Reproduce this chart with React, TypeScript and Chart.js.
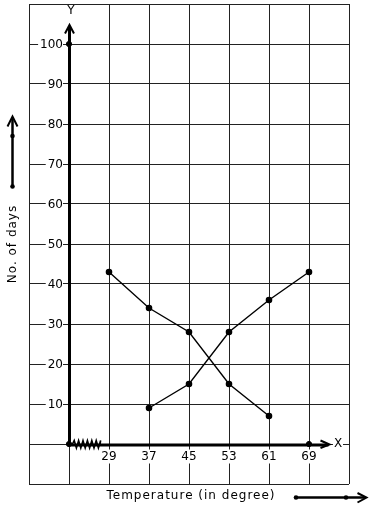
import React, { useEffect, useRef } from "react";
import { Chart, registerables } from "chart.js";

Chart.register(...registerables);

// ---- data ----
const seriesATemps = [29, 37, 45, 53, 61];
const seriesADays = [43, 34, 28, 15, 7];
const seriesBTemps = [37, 45, 53, 61, 69];
const seriesBDays = [9, 15, 28, 36, 43];
const axisMarkTemps = [21, 21, 69];
const axisMarkDays = [100, 0, 0];
const xTickLabels = [29, 37, 45, 53, 61, 69];
const yTickLabels = [10, 20, 30, 40, 50, 60, 70, 80, 90, 100];
const xOrigin = 21;
const xTitle = "Temperature (in degree)";
const yTitle = "No. of days";

const FONT = "12px 'DejaVu Sans'";

const decorPlugin = {
  id: "decor",
  beforeDatasetsDraw(chart: any) {
    const { ctx, chartArea, scales } = chart;
    const xs = scales.x;
    const ys = scales.y;
    const ox = xs.getPixelForValue(xOrigin);
    const oy = ys.getPixelForValue(0);
    ctx.save();
    ctx.font = FONT;
    ctx.fillStyle = "#000";
    ctx.textBaseline = "middle";

    // y tick labels with white backdrop
    ctx.textAlign = "right";
    for (const v of yTickLabels) {
      const py = ys.getPixelForValue(v);
      const t = String(v);
      const w = ctx.measureText(t).width;
      const rx = ox - 6;
      ctx.fillStyle = "#fff";
      ctx.fillRect(rx - w - 2, py - 7, w + 2, 14);
      ctx.fillStyle = "#000";
      ctx.fillText(t, rx, py + 0.5);
    }
    // x tick labels with white backdrop
    ctx.textAlign = "center";
    for (const v of xTickLabels) {
      const px = xs.getPixelForValue(v);
      const t = String(v);
      const w = ctx.measureText(t).width;
      const cy = oy + 12.5;
      ctx.fillStyle = "#fff";
      ctx.fillRect(px - w / 2 - 1, cy - 7, w + 2, 14);
      ctx.fillStyle = "#000";
      ctx.fillText(t, px, cy);
    }

    // axis letters
    ctx.fillStyle = "#fff";
    ctx.fillRect(ox - 5, chartArea.top + 1, 11, 19);
    ctx.fillRect(333, oy - 7, 10, 13);
    ctx.fillStyle = "#000";
    ctx.fillText("Y", ox + 2, chartArea.top + 7);
    ctx.fillText("X", 338, oy - 0.5);

    ctx.strokeStyle = "#000";
    ctx.lineCap = "butt";
    ctx.lineJoin = "miter";

    // y axis
    const yTip = chartArea.top + 21;
    ctx.lineWidth = 3;
    ctx.beginPath();
    ctx.moveTo(ox + 0.5, oy + 1.5);
    ctx.lineTo(ox + 0.5, yTip + 1);
    ctx.stroke();
    ctx.lineWidth = 2;
    ctx.beginPath();
    ctx.moveTo(ox - 4, yTip + 8.5);
    ctx.lineTo(ox + 0.5, yTip);
    ctx.lineTo(ox + 5, yTip + 8.5);
    ctx.stroke();

    // x axis
    const xTip = 329.5;
    ctx.lineWidth = 3;
    ctx.beginPath();
    ctx.moveTo(ox, oy + 1);
    ctx.lineTo(xTip - 1, oy + 1);
    ctx.stroke();
    ctx.lineWidth = 2;
    ctx.beginPath();
    ctx.moveTo(xTip - 9, oy - 3.5);
    ctx.lineTo(xTip, oy + 0.5);
    ctx.lineTo(xTip - 9, oy + 4);
    ctx.stroke();

    // zigzag axis break
    ctx.lineWidth = 1.6;
    ctx.beginPath();
    let zx = ox + 3;
    ctx.moveTo(zx, oy + 1);
    let up = true;
    while (zx < ox + 30) {
      zx += 2.2;
      ctx.lineTo(zx, up ? oy - 3.5 : oy + 4);
      up = !up;
    }
    ctx.lineTo(ox + 31, oy + 1);
    ctx.stroke();

    // axis titles
    (ctx as any).letterSpacing = "1px";
    ctx.textAlign = "center";
    ctx.fillText(xTitle, (chartArea.left + chartArea.right) / 2 + 2, 496);
    ctx.save();
    ctx.translate(12.5, 244);
    ctx.rotate(-Math.PI / 2);
    ctx.fillText(yTitle, 0, 0);
    ctx.restore();
    (ctx as any).letterSpacing = "0px";

    // direction arrows
    const dot = (x: number, y: number) => {
      ctx.beginPath();
      ctx.arc(x, y, 2.3, 0, Math.PI * 2);
      ctx.fill();
    };
    ctx.lineWidth = 2.5;
    ctx.beginPath();
    ctx.moveTo(12.5, 186.5);
    ctx.lineTo(12.5, 117);
    ctx.stroke();
    ctx.lineWidth = 2;
    ctx.beginPath();
    ctx.moveTo(7.5, 126.5);
    ctx.lineTo(12.5, 116.5);
    ctx.lineTo(17.5, 126.5);
    ctx.stroke();
    dot(12.5, 136);
    dot(12.5, 186.5);

    ctx.lineWidth = 2.5;
    ctx.beginPath();
    ctx.moveTo(296, 497.5);
    ctx.lineTo(365, 497.5);
    ctx.stroke();
    ctx.lineWidth = 2;
    ctx.beginPath();
    ctx.moveTo(357.5, 493);
    ctx.lineTo(366.5, 497.5);
    ctx.lineTo(357.5, 502.5);
    ctx.stroke();
    dot(296, 497.5);
    dot(346, 497.5);

    ctx.restore();
  },
};

export default function App() {
  const ref = useRef<HTMLCanvasElement>(null);
  useEffect(() => {
    document.body.style.margin = "0";
    const canvas = ref.current!;
    const chart = new Chart(canvas, {
      type: "scatter",
      data: {
        datasets: [
          {
            label: "A",
            data: seriesATemps.map((t, i) => ({ x: t, y: seriesADays[i] })),
            showLine: true,
            borderColor: "#000",
            backgroundColor: "#000",
            borderWidth: 1.4,
            pointRadius: 2.6,
            pointHoverRadius: 2.6,
          },
          {
            label: "B",
            data: seriesBTemps.map((t, i) => ({ x: t, y: seriesBDays[i] })),
            showLine: true,
            borderColor: "#000",
            backgroundColor: "#000",
            borderWidth: 1.4,
            pointRadius: 2.6,
            pointHoverRadius: 2.6,
          },
          {
            label: "axis",
            data: axisMarkTemps.map((t, i) => ({ x: t, y: axisMarkDays[i] })),
            showLine: false,
            borderColor: "#000",
            backgroundColor: "#000",
            pointRadius: 2.6,
            pointHoverRadius: 2.6,
          },
        ],
      },
      options: {
        responsive: false,
        animation: false,
        events: [],
        layout: { padding: { left: 29, top: 4, right: 22, bottom: 26 } },
        plugins: { legend: { display: false }, tooltip: { enabled: false } },
        scales: {
          x: {
            type: "linear",
            min: 13,
            max: 77,
            ticks: { stepSize: 8, display: false },
            grid: { color: "#222", lineWidth: 1, drawTicks: false },
            border: { display: false },
          },
          y: {
            type: "linear",
            min: -10,
            max: 110,
            ticks: { stepSize: 10, display: false },
            grid: { color: "#222", lineWidth: 1, drawTicks: false },
            border: { display: false },
          },
        },
      },
      plugins: [decorPlugin],
    });
    return () => chart.destroy();
  }, []);
  return (
    <canvas
      ref={ref}
      width={371}
      height={510}
      style={{ display: "block", width: 371, height: 510 }}
    />
  );
}
